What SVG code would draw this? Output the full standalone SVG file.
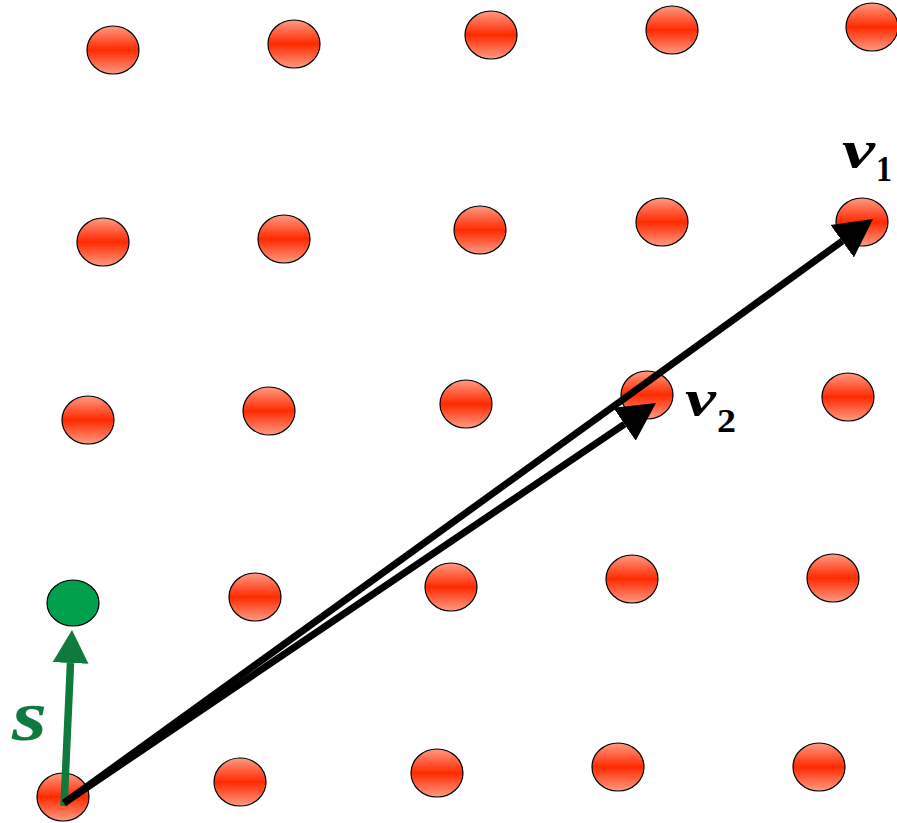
<svg xmlns="http://www.w3.org/2000/svg" width="897" height="823" viewBox="0 0 897 823">
<defs>
<linearGradient id="red" x1="0" y1="0" x2="0" y2="1">
<stop offset="0" stop-color="#ff9a84"/>
<stop offset="0.5" stop-color="#ff2a00"/>
<stop offset="1" stop-color="#ff9a84"/>
</linearGradient>
<marker id="headK" markerUnits="userSpaceOnUse" markerWidth="40" markerHeight="42" viewBox="0 -21 40 42" refX="0" refY="0" orient="auto">
<path d="M0,-20 L38,0 L0,20 Z" fill="#000"/>
</marker>
<marker id="headG" markerUnits="userSpaceOnUse" markerWidth="36" markerHeight="40" viewBox="0 -20 36 40" refX="0" refY="0" orient="auto">
<path d="M0,-18 L33,0 L0,18 Z" fill="#0e7a3d"/>
</marker>
</defs>
<style>
.dot{fill:url(#red);stroke:#000;stroke-width:1.2}
.gdot{fill:#00a04c;stroke:#000;stroke-width:1.2}
.lbl{font-family:"Liberation Serif","DejaVu Serif",serif;font-weight:bold;font-style:italic;fill:#000}
.sub{font-family:"Liberation Serif","DejaVu Serif",serif;font-weight:bold;fill:#000}
</style>
<g id="lattice">
<g id="n11"><ellipse class="dot" cx="113" cy="50" rx="26" ry="24"/></g>
<g id="n12"><ellipse class="dot" cx="294" cy="44" rx="26" ry="24"/></g>
<g id="n13"><ellipse class="dot" cx="491" cy="35" rx="26" ry="24"/></g>
<g id="n14"><ellipse class="dot" cx="672" cy="30" rx="26" ry="24"/></g>
<g id="n15"><ellipse class="dot" cx="872" cy="27" rx="26" ry="24"/></g>
<g id="n21"><ellipse class="dot" cx="103" cy="242" rx="26" ry="24"/></g>
<g id="n22"><ellipse class="dot" cx="284" cy="239" rx="26" ry="24"/></g>
<g id="n23"><ellipse class="dot" cx="480" cy="230" rx="26" ry="24"/></g>
<g id="n24"><ellipse class="dot" cx="662" cy="222" rx="26" ry="24"/></g>
<g id="n25"><ellipse class="dot" cx="862" cy="222" rx="26" ry="24"/></g>
<g id="n31"><ellipse class="dot" cx="88" cy="420" rx="26" ry="24"/></g>
<g id="n32"><ellipse class="dot" cx="269" cy="411" rx="26" ry="24"/></g>
<g id="n33"><ellipse class="dot" cx="466" cy="404" rx="26" ry="24"/></g>
<g id="n34"><ellipse class="dot" cx="647" cy="395" rx="26" ry="24"/></g>
<g id="n35"><ellipse class="dot" cx="848" cy="397" rx="26" ry="24"/></g>
<g id="n42"><ellipse class="dot" cx="255" cy="597" rx="26" ry="24"/></g>
<g id="n43"><ellipse class="dot" cx="451" cy="587" rx="26" ry="24"/></g>
<g id="n44"><ellipse class="dot" cx="632" cy="579" rx="26" ry="24"/></g>
<g id="n45"><ellipse class="dot" cx="833" cy="578" rx="26" ry="24"/></g>
<g id="n51"><ellipse class="dot" cx="63" cy="797" rx="26" ry="24"/></g>
<g id="n52"><ellipse class="dot" cx="240" cy="782" rx="26" ry="24"/></g>
<g id="n53"><ellipse class="dot" cx="437" cy="773" rx="26" ry="24"/></g>
<g id="n54"><ellipse class="dot" cx="618" cy="767" rx="26" ry="24"/></g>
<g id="n55"><ellipse class="dot" cx="819" cy="767" rx="26" ry="24"/></g>
</g>
<g id="target"><ellipse class="gdot" cx="73" cy="603" rx="26" ry="23"/></g>
<g id="connectors">
<line id="s" x1="64" y1="806" x2="70.5" y2="663" stroke="#0e7a3d" stroke-width="7.5" marker-end="url(#headG)"/>
<line id="v1" x1="64" y1="803" x2="842.2" y2="241.2" stroke="#000" stroke-width="7" marker-end="url(#headK)"/>
<line id="v2" x1="64" y1="803" x2="624.5" y2="424.2" stroke="#000" stroke-width="7" marker-end="url(#headK)"/>
</g>
<g id="labels">
<text class="lbl" x="842" y="167" font-size="52" textLength="33" lengthAdjust="spacingAndGlyphs">v</text>
<text class="sub" x="876" y="181" font-size="35" textLength="16" lengthAdjust="spacingAndGlyphs">1</text>
<text class="lbl" x="685" y="415" font-size="50" textLength="31" lengthAdjust="spacingAndGlyphs">v</text>
<text class="sub" x="717" y="432" font-size="33" textLength="19" lengthAdjust="spacingAndGlyphs">2</text>
<text class="lbl" x="12" y="740" font-size="72" textLength="35" lengthAdjust="spacingAndGlyphs" style="fill:#0e7a3d">s</text>
</g>
</svg>
